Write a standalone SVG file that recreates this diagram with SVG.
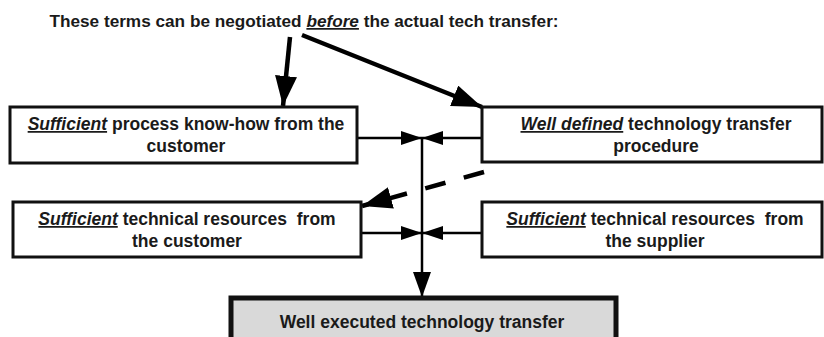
<svg xmlns="http://www.w3.org/2000/svg" width="824" height="337" viewBox="0 0 824 337">
<style>
text{font-family:"Liberation Sans",Arial,sans-serif;font-weight:bold;fill:#1a1a1a;font-size:17.5px;white-space:pre}
.em{font-style:italic;text-decoration:underline}
.box{fill:#fff;stroke:#111;stroke-width:3}
.fin{fill:#d9d9d9;stroke:#111;stroke-width:5}
.big{stroke:#000;stroke-width:4.5;fill:none}
.thin{stroke:#000;stroke-width:2.5;fill:none}
</style>
<defs>
<marker id="ab" markerUnits="userSpaceOnUse" markerWidth="32" markerHeight="22" refX="30" refY="11" orient="auto"><path d="M0,0 L30,11 L0,22 Z" fill="#000"/></marker>
<marker id="as" markerUnits="userSpaceOnUse" markerWidth="22" markerHeight="14" refX="21" refY="7" orient="auto"><path d="M0,0 L21,7 L0,14 Z" fill="#000"/></marker>
<marker id="av" markerUnits="userSpaceOnUse" markerWidth="26" markerHeight="18" refX="25" refY="9" orient="auto"><path d="M0,0 L25,9 L0,18 Z" fill="#000"/></marker>
</defs>
<text x="304" y="27" text-anchor="middle" style="font-size:17.2px">These terms can be negotiated <tspan class="em">before</tspan> the actual tech transfer:</text>
<g id="connectors">
<line class="big" x1="290" y1="37" x2="283" y2="106" marker-end="url(#ab)"/>
<line class="big" x1="302" y1="35" x2="482" y2="107" marker-end="url(#ab)"/>
<line class="thin" x1="357" y1="138" x2="422" y2="138" marker-end="url(#as)"/>
<line class="thin" x1="482" y1="138" x2="422" y2="138" marker-end="url(#as)"/>
<line class="thin" x1="361" y1="233" x2="422" y2="233" marker-end="url(#as)"/>
<line class="thin" x1="482" y1="233" x2="422" y2="233" marker-end="url(#as)"/>
<line class="thin" x1="422" y1="138" x2="422" y2="297" marker-end="url(#av)"/>
<line class="big" x1="484" y1="172" x2="362" y2="206" stroke-dasharray="21 19" marker-end="url(#ab)"/>
</g>
<g id="n1"><rect class="box" x="10" y="107" width="347" height="56"/>
<text x="186" y="130" text-anchor="middle"><tspan class="em">Sufficient</tspan> process know-how from the</text>
<text x="186" y="152" text-anchor="middle">customer</text></g>
<g id="n2"><rect class="box" x="482" y="107" width="340" height="55"/>
<text x="656" y="130" text-anchor="middle"><tspan class="em">Well defined</tspan> technology transfer</text>
<text x="656" y="152" text-anchor="middle">procedure</text></g>
<g id="n3"><rect class="box" x="13" y="202" width="348" height="55"/>
<text x="187" y="225" text-anchor="middle"><tspan class="em">Sufficient</tspan> technical resources  from</text>
<text x="187" y="247" text-anchor="middle">the customer</text></g>
<g id="n4"><rect class="box" x="482" y="202" width="340" height="55"/>
<text x="655" y="225" text-anchor="middle"><tspan class="em">Sufficient</tspan> technical resources  from</text>
<text x="655" y="247" text-anchor="middle">the supplier</text></g>
<g id="n5"><rect class="fin" x="231" y="298" width="385" height="50"/>
<text x="422" y="328" text-anchor="middle">Well executed technology transfer</text></g>
</svg>
